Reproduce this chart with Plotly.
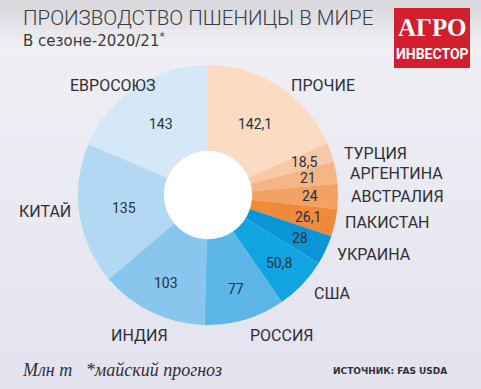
import math
import plotly.graph_objects as go

W, H = 481, 389

countries = ["ПРОЧИЕ", "ТУРЦИЯ", "АРГЕНТИНА", "АВСТРАЛИЯ", "ПАКИСТАН", "УКРАИНА",
             "США", "РОССИЯ", "ИНДИЯ", "КИТАЙ", "ЕВРОСОЮЗ"]
values = [142.1, 18.5, 21, 24, 26.1, 28, 50.8, 77, 103, 135, 143]
value_text = ["142,1", "18,5", "21", "24", "26,1", "28", "50,8", "77", "103", "135", "143"]
colors = ["#fbdcc3", "#f9c8a4", "#f6b585", "#f3a264", "#ef8a3a", "#0a96d6",
          "#10a4e0", "#5cb7e8", "#89c6ee", "#b3d8f3", "#d5e8f8"]

# label positions (pixels, x, y) for the outside country names
label_pos = {
    "ЕВРОСОЮЗ": (112, 85, "center"), "ПРОЧИЕ": (323, 85, "center"),
    "ТУРЦИЯ": (342, 153, "left"), "АРГЕНТИНА": (348, 173, "left"),
    "АВСТРАЛИЯ": (349, 196, "left"), "ПАКИСТАН": (343, 222, "left"),
    "УКРАИНА": (335, 254, "left"), "США": (312, 293, "left"),
    "РОССИЯ": (282, 335, "center"), "ИНДИЯ": (139, 335, "center"),
    "КИТАЙ": (45, 212, "center"),
}

cx, cy, R = 208, 195, 130
hole = 0.34

def px(x):
    return x / W

def py(y):
    return 1 - y / H

fig = go.Figure()
fig.add_trace(go.Pie(
    labels=countries, values=values, sort=False, direction="clockwise", rotation=0,
    hole=hole, marker=dict(colors=colors, line=dict(width=0)),
    textinfo="none", showlegend=False, hoverinfo="label+value",
    domain=dict(x=[px(cx - R), px(cx + R)], y=[py(cy + R), py(cy - R)]),
))

shapes = []
def lerp(c1, c2, t):
    a = [int(c1[i:i + 2], 16) for i in (1, 3, 5)]
    b = [int(c2[i:i + 2], 16) for i in (1, 3, 5)]
    return "#%02x%02x%02x" % tuple(round(a[k] + (b[k] - a[k]) * t) for k in range(3))

n = 40
for i in range(n):
    y0 = H * i / n
    y1 = H * (i + 1) / n + 1
    if y0 < 40:
        c = lerp("#dadade", "#efeff4", y0 / 40)
    else:
        c = lerp("#efeff4", "#e3e2ef", (y0 - 40) / (H - 40))
    shapes.append(dict(type="rect", xref="paper", yref="paper", x0=0, x1=1,
                       y0=py(min(y1, H)), y1=py(y0), fillcolor=c, line=dict(width=0), layer="below"))
rh = R * hole
shapes.append(dict(type="circle", xref="paper", yref="paper",
                   x0=px(cx - rh), x1=px(cx + rh), y0=py(cy + rh), y1=py(cy - rh),
                   fillcolor="white", line=dict(width=0), layer="below"))
shapes.append(dict(type="rect", xref="paper", yref="paper", x0=px(394), x1=px(470),
                   y0=py(68), y1=py(8), fillcolor="#d21f2d", line=dict(width=0)))

ann = []
lab_font = dict(family="Roboto", size=16, color="#2f3037")
for name, (x, y, al) in label_pos.items():
    ann.append(dict(x=px(x), y=py(y), xref="paper", yref="paper", text=name, showarrow=False,
                    xanchor=al, yanchor="middle", font=lab_font))

# value labels placed at each slice's mid-angle, computed from the data
total = sum(values)
cum = 0.0
val_font = dict(family="Roboto", size=14, color="#263040")
for v, t in zip(values, value_text):
    mid = (cum + v / 2) / total * 2 * math.pi
    cum += v
    r = 85 if v > 110 else (98 if v > 45 else 102)
    x = cx + r * math.sin(mid)
    y = cy - r * math.cos(mid)
    ann.append(dict(x=px(x), y=py(y), xref="paper", yref="paper", text=t, showarrow=False,
                    xanchor="center", yanchor="middle", font=val_font))

ann += [
    dict(x=px(21), y=py(18), xref="paper", yref="paper", text="ПРОИЗВОДСТВО ПШЕНИЦЫ В МИРЕ",
         showarrow=False, xanchor="left", yanchor="middle",
         font=dict(family="Roboto", size=20.5, color="#3a3a40", weight=300)),
    dict(x=px(21), y=py(40), xref="paper", yref="paper", text="В сезоне-2020/21<sup>*</sup>",
         showarrow=False, xanchor="left", yanchor="middle",
         font=dict(family="DejaVu Sans", size=15, color="#3a3a40")),
    dict(x=px(432), y=py(27), xref="paper", yref="paper", text="<b>АГРО</b>",
         showarrow=False, xanchor="center", yanchor="middle",
         font=dict(family="Liberation Serif", size=25, color="white")),
    dict(x=px(432), y=py(54), xref="paper", yref="paper", text="<b>ИНВЕСТОР</b>",
         showarrow=False, xanchor="center", yanchor="middle",
         font=dict(family="Roboto", size=14, color="white")),
    dict(x=px(20), y=py(370), xref="paper", yref="paper", text="<i>Млн т   *майский прогноз</i>",
         showarrow=False, xanchor="left", yanchor="middle",
         font=dict(family="Liberation Serif", size=18, color="#2f3037")),
    dict(x=px(449), y=py(371), xref="paper", yref="paper", text="<b>ИСТОЧНИК: FAS USDA</b>",
         showarrow=False, xanchor="right", yanchor="middle",
         font=dict(family="DejaVu Sans", size=9, color="#2f3037")),
]

fig.update_layout(
    width=W, height=H, margin=dict(l=0, r=0, t=0, b=0),
    paper_bgcolor="#ebeaf3", plot_bgcolor="#ebeaf3",
    shapes=shapes, annotations=ann,
)
fig.write_html("out.html", config={"displayModeBar": False},
               post_script="document.body.style.margin='0';document.body.style.overflow='hidden';")
